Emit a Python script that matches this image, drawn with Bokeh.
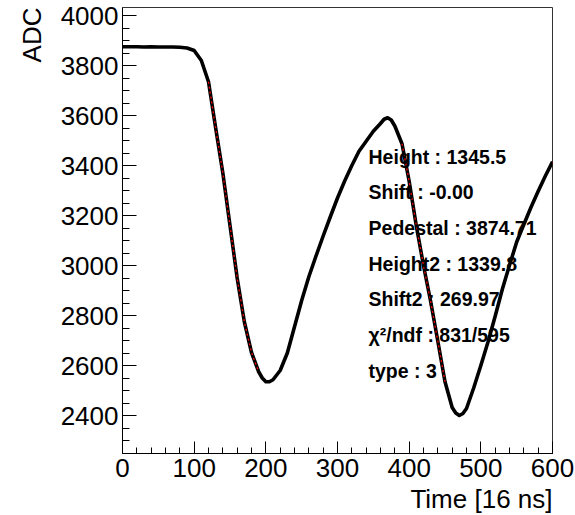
import numpy as np
from bokeh.plotting import figure
from bokeh.models import Range1d, SingleIntervalTicker, Label, ColumnDataSource, Title
from bokeh.embed import file_html
from bokeh.resources import INLINE

# ---- data ----
time = [0, 10, 20, 30, 40, 50, 60, 70, 80, 90, 100, 110, 120, 130, 140, 150, 160,
        170, 180, 190, 195, 200, 205, 210, 220, 230, 240, 250, 260, 270, 280, 290,
        300, 310, 320, 330, 340, 350, 360, 365, 370, 375, 380, 390, 400, 410, 420,
        430, 440, 450, 460, 465, 470, 475, 480, 490, 500, 510, 520, 530, 540, 550,
        560, 570, 580, 590, 600]
adc = [3875, 3875, 3875, 3874, 3875, 3874, 3874, 3874, 3873, 3870, 3860, 3820, 3735,
       3550, 3370, 3160, 2950, 2775, 2652, 2575, 2550, 2535, 2535, 2543, 2580, 2650,
       2755, 2860, 2955, 3038, 3118, 3195, 3270, 3338, 3400, 3457, 3497, 3537, 3568,
       3585, 3591, 3582, 3558, 3487, 3337, 3158, 3000, 2856, 2697, 2535, 2432, 2410,
       2400, 2408, 2428, 2510, 2600, 2694, 2797, 2905, 3001, 3094, 3164, 3233, 3297,
       3358, 3415]

stat_lines = ["Height : 1345.5", "Shift : -0.00", "Pedestal : 3874.71",
              "Height2 : 1339.8", "Shift2 : 269.97", "\u03c7\u00b2/ndf : 831/595",
              "type : 3"]

x_label = "Time [16 ns]"
y_label = "ADC"

FONT = "Liberation Sans"

p = figure(width=575, height=515, output_backend="svg", toolbar_location=None,
           x_range=Range1d(0, 600), y_range=Range1d(2248, 4032),
           min_border_left=122, min_border_right=23, min_border_top=7,
           min_border_bottom=62)
p.background_fill_color = "white"
p.border_fill_color = "white"
p.outline_line_color = "#333333"
p.outline_line_width = 1
p.grid.visible = False

src = ColumnDataSource(dict(t=time, a=adc))
p.line("t", "a", source=src, line_color="red", line_width=2)
p.line("t", "a", source=src, line_color="black", line_width=3.6, line_join="round")

t_arr = np.array(time)
a_arr = np.array(adc)
for lo, hi in [(120, 190), (390, 455)]:
    m = (t_arr >= lo) & (t_arr <= hi)
    p.line(t_arr[m], a_arr[m], line_color="red", line_width=1.3, line_dash="2 3")

# axes
xa = p.xaxis[0]
xa.ticker = SingleIntervalTicker(interval=100, num_minor_ticks=5)
xa.major_tick_in = 12
xa.major_tick_out = 0
xa.minor_tick_in = 6
xa.minor_tick_out = 0
xa.major_label_standoff = 5
ya = p.yaxis[0]
ya.ticker = SingleIntervalTicker(interval=200, num_minor_ticks=4)
ya.major_tick_in = 14
ya.major_tick_out = 0
ya.minor_tick_in = 7
ya.minor_tick_out = 0
ya.major_label_standoff = 4
for ax in (xa, ya):
    ax.axis_line_color = "black"
    ax.major_tick_line_color = "black"
    ax.minor_tick_line_color = "black"
    ax.major_label_text_font = FONT
    ax.major_label_text_font_size = "26px"
    ax.major_label_text_color = "black"

# axis titles as border titles
p.add_layout(Title(text=x_label, align="right", text_font=FONT,
                   text_font_size="26px", text_font_style="normal",
                   text_color="black", standoff=4, offset=0), "below")
p.add_layout(Title(text=y_label, align="right", text_font=FONT,
                   text_font_size="26px", text_font_style="normal",
                   text_color="black", standoff=22, offset=0), "left")

# fit statistics
for i, s in enumerate(stat_lines):
    p.add_layout(Label(x=343.3, y=3436 - i * 142.8, text=s, text_font=FONT,
                       text_font_size="19.5px", text_font_style="bold",
                       text_align="left", text_baseline="middle",
                       text_color="black"))

open("out.html", "w").write(file_html(p, INLINE))
